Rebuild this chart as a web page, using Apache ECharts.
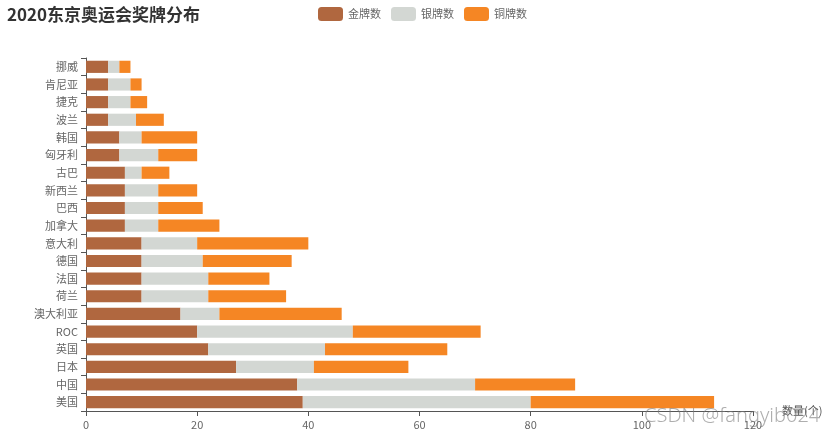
<!DOCTYPE html>
<html>
<head>
<meta charset="utf-8">
<script src="https://cdn.jsdelivr.net/npm/echarts@6/dist/echarts.min.js"></script>
<style>html,body{margin:0;padding:0;background:#fff}#c{width:831px;height:438px}</style>
</head>
<body>
<div id="c"></div>
<script>
const countries = ['美国','中国','日本','英国','ROC','澳大利亚','荷兰','法国','德国','意大利','加拿大','巴西','新西兰','古巴','匈牙利','韩国','波兰','捷克','肯尼亚','挪威'];
const gold   = [39,38,27,22,20,17,10,10,10,10,7,7,7,7,6,6,4,4,4,4];
const silver = [41,32,14,21,28,7,12,12,11,10,6,6,6,3,7,4,5,4,4,2];
const bronze = [33,18,17,22,23,22,14,11,16,20,11,8,7,5,7,10,5,3,2,2];
const seriesNames = ['金牌数','银牌数','铜牌数'];
const colors = ['#b0673f','#d3d7d3','#f58624'];
const FONT = '"Noto Sans CJK SC", "Noto Sans", sans-serif';

const chart = echarts.init(document.getElementById('c'));
const vals = [gold, silver, bronze];
chart.setOption({
  animation: false,
  textStyle: {fontFamily: FONT},
  title: {
    text: '2020东京奥运会奖牌分布', left: 2, top: 1,
    textStyle: {fontSize: 17, fontWeight: 'bold', color: '#333', fontFamily: FONT}
  },
  legend: {
    left: 313, top: 2, itemWidth: 25, itemHeight: 14, itemGap: 10,
    textStyle: {fontSize: 11, color: '#666', fontFamily: FONT},
    data: seriesNames
  },
  grid: {left: 86, right: 78, top: 58, bottom: 27, containLabel: false},
  xAxis: {
    type: 'value', min: 0, max: 120, interval: 20,
    name: '数量(个)', nameGap: 29,
    nameTextStyle: {fontSize: 11, color: '#555', fontFamily: FONT},
    axisLine: {show: true, lineStyle: {color: '#555'}},
    axisTick: {show: true, lineStyle: {color: '#555'}},
    axisLabel: {fontSize: 11, color: '#666', fontFamily: FONT},
    splitLine: {show: false}
  },
  yAxis: {
    type: 'category', data: countries,
    axisLine: {show: true, lineStyle: {color: '#555'}},
    axisTick: {show: true, lineStyle: {color: '#555'}},
    axisLabel: {fontSize: 11, color: '#666', fontFamily: FONT}
  },
  series: seriesNames.map((n, i) => ({
    name: n, type: 'bar', stack: 'total', data: vals[i],
    itemStyle: {color: colors[i]}
  })),
  graphic: [{
    type: 'text', left: 644, top: 406, silent: true, z: 100,
    style: {text: 'CSDN @fangyib024', fontSize: 20, fill: 'rgba(120,120,120,0.6)', fontFamily: '"Noto Sans", sans-serif', fontWeight: 300}
  }]
});
</script>
</body>
</html>
